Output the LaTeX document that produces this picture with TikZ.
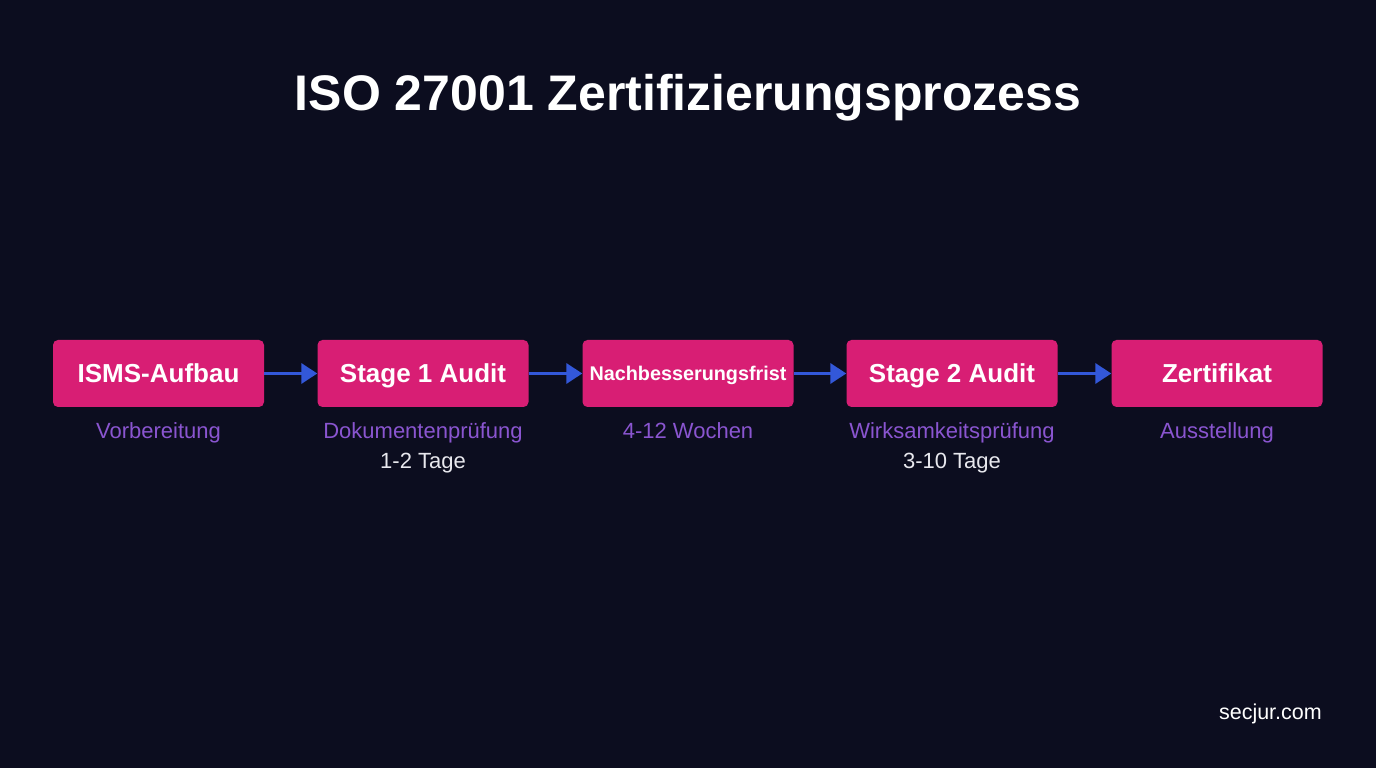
\documentclass[tikz,border=0pt]{standalone}
\usepackage{fontspec}
\setmainfont{Liberation Sans}
\usetikzlibrary{arrows.meta}
\definecolor{bg}{HTML}{0C0D1F}
\definecolor{boxpink}{HTML}{D81E74}
\definecolor{arrowblue}{HTML}{3358D9}
\definecolor{sublabel}{HTML}{8A55D0}
\definecolor{subwhite}{HTML}{E8E8EE}
\tikzset{
  capc/.style={text height=#1, text depth=0pt},
  stagebox/.style={fill=boxpink, rounded corners=5pt, minimum width=211pt, minimum height=67pt, inner sep=0pt, text=white, font=\bfseries\fontsize{26}{30}\selectfont, capc=18.6pt},
  flow/.style={draw=arrowblue, line width=3.5pt, -{Triangle[length=16pt,width=20pt]}},
  sub/.style={text=sublabel, font=\fontsize{22}{26}\selectfont, capc=15.8pt, inner sep=0pt},
  subw/.style={text=subwhite, font=\fontsize{22}{26}\selectfont, capc=15.8pt, inner sep=0pt},
}
\begin{document}
\begin{tikzpicture}[x=1pt,y=1pt]
\fill[bg] (0,0) rectangle (1376,768);
\useasboundingbox (0,0) rectangle (1376,768);
\node[text=white, font=\bfseries\fontsize{50}{56}\selectfont, capc=35.8pt, inner sep=0pt] (title) at (688,675) {ISO 27001 Zertifizierungsprozess};
\node[stagebox] (b1) at (158.5,394.5) {ISMS-Aufbau};
\node[stagebox] (b2) at (423,394.5) {Stage 1 Audit};
\node[stagebox, font=\bfseries\fontsize{19.8}{23}\selectfont, capc=14.2pt] (b3) at (688,394.5) {Nachbesserungsfrist};
\node[stagebox] (b4) at (952,394.5) {Stage 2 Audit};
\node[stagebox] (b5) at (1217,394.5) {Zertifikat};
\draw[flow] (b1) -- (b2);
\draw[flow] (b2) -- (b3);
\draw[flow] (b3) -- (b4);
\draw[flow] (b4) -- (b5);
\node[sub] (s1) at (158.5,337) {Vorbereitung};
\node[sub] (s2) at (423,337) {Dokumentenprüfung};
\node[subw] (t2) at (423,307) {1-2 Tage};
\node[sub] (s3) at (688,337) {4-12 Wochen};
\node[sub] (s4) at (952,337) {Wirksamkeitsprüfung};
\node[subw] (t4) at (952,307) {3-10 Tage};
\node[sub] (s5) at (1217,337) {Ausstellung};
\node[text=white, font=\fontsize{21.5}{25}\selectfont, capc=15.4pt, inner sep=0pt, anchor=east] (brand) at (1322,56.5) {secjur.com};
\end{tikzpicture}
\end{document}
